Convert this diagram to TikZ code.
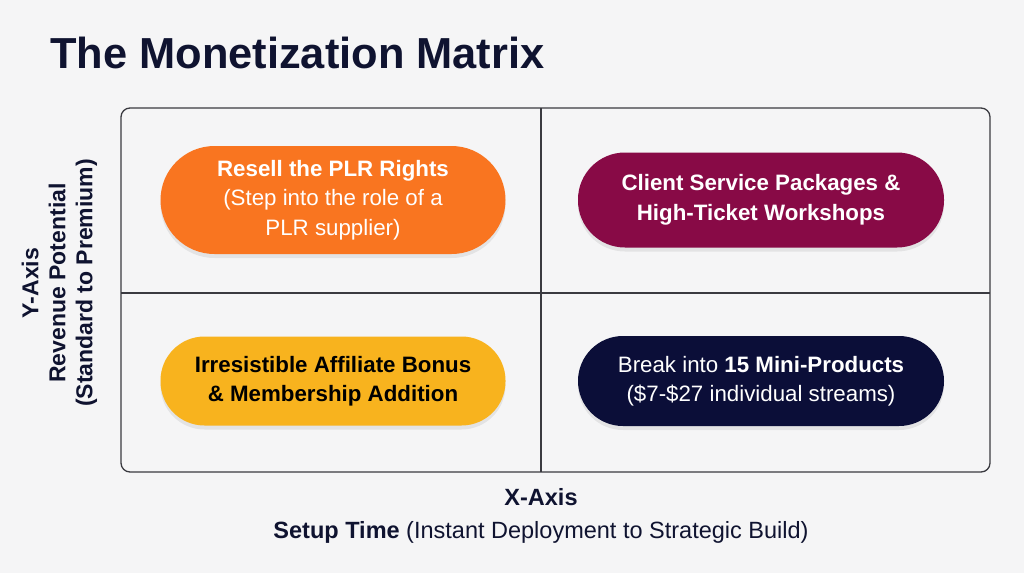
\documentclass[tikz,border=0pt]{standalone}
\usepackage{fontspec}
\setmainfont{Liberation Sans}
\usetikzlibrary{shadows}
\definecolor{bg}{HTML}{F5F5F6}
\definecolor{ink}{HTML}{0F1330}
\definecolor{frame}{HTML}{3A3A40}
\definecolor{orangeC}{HTML}{F97520}
\definecolor{plumC}{HTML}{880A46}
\definecolor{amberC}{HTML}{F8B31E}
\definecolor{navyC}{HTML}{0B0E38}
\tikzset{
  pill/.style={rounded corners=46pt, minimum width=345pt, align=center,
    font=\fontsize{22.3}{29.5}\selectfont, inner sep=0pt,
    drop shadow={shadow xshift=0pt, shadow yshift=-4pt, opacity=0.07, fill=black}},
  axislab/.style={font=\fontsize{23.5}{31}\selectfont, text=ink, align=center},
}
\begin{document}
\begin{tikzpicture}[x=1pt,y=-1pt]
\fill[bg] (0,0) rectangle (1024,573);
\useasboundingbox (0,0) rectangle (1024,573);
\node[anchor=base west, text=ink, font=\fontsize{43.4}{50}\selectfont\bfseries, inner sep=0pt] (title) at (50,68) {The Monetization Matrix};
% frame
\draw[frame, line width=1.3pt, rounded corners=9pt] (121,108) rectangle (990,472);
\coordinate (vt) at (541,108);
\coordinate (vb) at (541,472);
\coordinate (hl) at (121,293);
\coordinate (hr) at (990,293);
\draw[frame, line width=1.3pt] (vt) -- (vb);
\draw[frame, line width=1.3pt] (hl) -- (hr);
% pills
\node[pill, fill=orangeC, text=white, minimum height=108pt, rounded corners=54pt] (resell) at (333,200)
  {\textbf{Resell the PLR Rights}\\(Step into the role of a\\PLR supplier)};
\node[pill, fill=plumC, text=white, minimum width=366pt, minimum height=95pt, rounded corners=47pt] (client) at (761,200)
  {\textbf{Client Service Packages \&}\\\textbf{High-Ticket Workshops}};
\node[pill, fill=amberC, text=black, minimum height=89pt, rounded corners=44pt] (affil) at (333,381)
  {\textbf{Irresistible Affiliate Bonus}\\\textbf{\& Membership Addition}};
\node[pill, fill=navyC, text=white, minimum width=366pt, minimum height=90pt, rounded corners=45pt] (mini) at (761,381)
  {Break into \textbf{15 Mini-Products}\\(\$7-\$27 individual streams)};
% axis labels
\node[axislab, rotate=90, font=\fontsize{23}{27}\selectfont] (ylab) at (59.5,283)
  {\textbf{Y-Axis}\\\textbf{Revenue Potential}\\\textbf{(Standard to Premium)}};
\node[axislab, font=\fontsize{23.5}{33}\selectfont] (xlab) at (541,516)
  {\textbf{X-Axis}\\\textbf{Setup Time} (Instant Deployment to Strategic Build)};
\end{tikzpicture}
\end{document}
